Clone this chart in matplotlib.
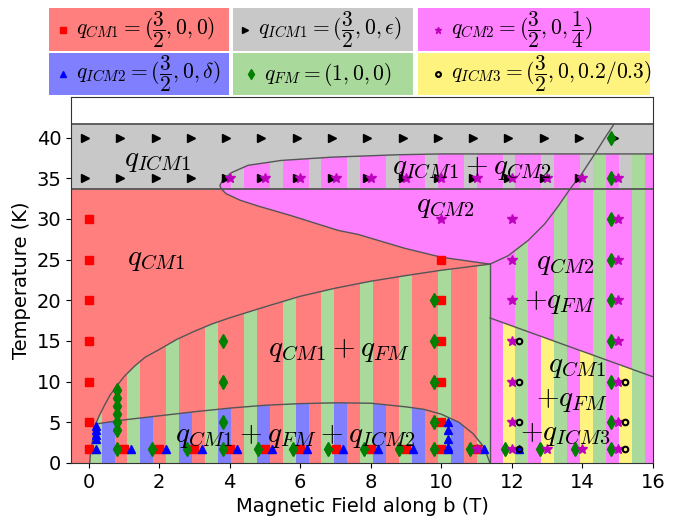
import numpy as np
import matplotlib
matplotlib.use("Agg")
import matplotlib.pyplot as plt
from matplotlib.patches import Polygon, Rectangle

plt.rcParams['mathtext.fontset'] = 'cm'

# phase colours
RED = '#ff7f7f'
GRAY = '#c8c8c8'
MAG = '#ff80ff'
BLUE = '#8080ff'
GREEN = '#a9d99b'
YEL = '#fff380'
LINE = '#555555'

# horizontal levels of the high temperature band
t_low = 33.7
t_mid = 38.0
t_top = 41.7

# CM1 / CM1+FM boundary
b4_x = [0.03, 0.06, 0.12, 0.2, 0.3, 0.45, 0.6, 0.8, 1.0, 1.3, 1.6, 2.0, 2.5, 3.0, 3.5, 4.0,
        5.0, 6.0, 7.0, 8.0, 9.0, 10.0, 11.38]
b4_y = [0.0, 1.5, 3.0, 4.8, 5.8, 7.1, 8.3, 9.5, 10.6, 11.9, 13.0, 13.95, 15.2, 16.2, 17.1, 17.85,
        19.2, 20.5, 21.5, 22.35, 23.05, 23.7, 24.45]

# ICM2 dome
b5_x = [0.2, 1.0, 2.0, 3.0, 4.0, 5.0, 6.0, 7.0, 8.0, 9.0, 9.5, 10.0, 10.5, 10.9, 11.2, 11.38]
b5_y = [4.8, 5.3, 5.8, 6.3, 6.75, 7.1, 7.3, 7.4, 7.35, 6.9, 6.6, 6.0, 5.0, 3.6, 2.0, 0.0]

# nose of the ICM1+CM2 pocket: upper and lower branches from the tip
up_x = [3.72, 3.8, 4.05, 4.52, 5.46, 6.88, 8.77, 10.0, 16.0]
up_y = [34.1, 34.8, 35.7, 36.6, 37.2, 37.6, 37.9, 38.0, 38.0]
lo_x = [3.72, 3.76, 3.9, 4.3, 4.8, 5.75, 7.07, 7.64, 8.96, 10.0, 11.38]
lo_y = [34.1, 33.7, 33.1, 32.3, 31.6, 30.4, 28.6, 28.1, 26.4, 25.3, 24.45]

# CM2 / CM2+FM boundary
st_x = [11.38, 11.9, 12.47, 12.93, 13.3, 13.65, 13.97, 14.35, 14.64, 14.9]
st_y = [24.45, 25.5, 27.4, 29.4, 31.5, 33.7, 35.5, 38.0, 40.0, 41.7]

# CM2+FM / CM1+FM+ICM3 boundary
b7_x = [11.38, 16.0]
b7_y = [17.83, 10.6]

# measured points
y_bot = 1.7
icm1_x = [-0.1, 0.9, 1.9, 2.9, 3.9, 4.9, 5.9, 6.9, 7.9, 8.9, 9.9, 10.9, 11.9, 12.9, 13.9, 14.9,
          -0.1, 0.9, 1.9, 2.9, 3.9, 4.9, 5.9, 6.9, 7.9, 8.9, 9.9, 10.9, 11.9, 12.9, 13.9, 14.9]
icm1_y = [40] * 16 + [35] * 16

cm1_x = [0, 0, 0, 0, 0, 0, 0, 1, 2, 3, 4, 5, 6, 7, 8, 9, 10, 11, 10, 10, 10, 10, 10]
cm1_y = [30, 25, 20, 15, 10, 5, y_bot, y_bot, y_bot, y_bot, y_bot, y_bot, y_bot, y_bot, y_bot,
         y_bot, y_bot, y_bot, 25, 20, 15, 10, 5]

icm2_x = [0.2, 0.2, 0.2, 0.2, 0.2, 1.2, 2.2, 3.2, 4.2, 5.2, 6.2, 7.2, 8.2, 9.2, 10.2, 11.2,
          10.2, 10.2, 10.2, 10.2, 12.2]
icm2_y = [4.5, 4.0, 3.5, 3.0, y_bot, y_bot, y_bot, y_bot, y_bot, y_bot, y_bot, y_bot, y_bot,
          y_bot, y_bot, y_bot, 5, 4, 3, 2, y_bot]

fm_x = [0.8, 0.8, 0.8, 0.8, 0.8, 0.8, 3.8, 3.8, 3.8, 9.8, 9.8, 9.8, 9.8,
        14.8, 14.8, 14.8, 14.8, 14.8, 14.8, 14.8, 14.8,
        0.8, 1.8, 2.8, 3.8, 4.8, 5.8, 6.8, 7.8, 8.8, 9.8, 10.8, 11.8, 12.8, 13.8, 14.8]
fm_y = [4, 5, 6, 7, 8, 9, 15, 10, 5, 20, 15, 10, 5,
        40, 35, 30, 25, 20, 15, 10, 5] + [y_bot] * 15

cm2_x = [4, 5, 6, 7, 8, 9, 10, 11, 12, 13, 14, 15,
         10, 12, 15, 12, 15, 12, 15, 12, 15, 12, 15, 12, 15,
         11, 12, 13, 14, 15]
cm2_y = [35] * 12 + [30, 30, 30, 25, 25, 20, 20, 15, 15, 10, 10, 5, 5] + [y_bot] * 5

icm3_x = [12.2, 12.2, 12.2, 12.2, 15.2, 15.2, 15.2]
icm3_y = [15, 10, 5, y_bot, 10, 5, y_bot]


def striped(ax, xs, ys, colors, period=1.1, nper=15):
    poly = Polygon(np.column_stack([xs, ys]), closed=True, facecolor=colors[1],
                   edgecolor='none', zorder=1)
    ax.add_patch(poly)
    w = period / 3
    for k in range(nper):
        for j, c in enumerate(colors):
            s = ax.axvspan(k * period + j * w, k * period + (j + 1) * w, color=c, lw=0,
                           antialiased=False, zorder=1)
            s.set_clip_path(poly)


fig = plt.figure(figsize=(6.89, 5.17), dpi=100)
ax = fig.add_axes([71 / 689, 54 / 517, 582 / 689, 366 / 517])

# backgrounds
ax.axhspan(0, t_low, color=RED, lw=0, zorder=0.5)
ax.axhspan(t_low, t_top, color=GRAY, lw=0, zorder=0.5)

# CM2 pocket (solid)
cm2_poly = list(zip(lo_x[1:], lo_y[1:])) + list(zip(st_x[1:6], st_y[1:6]))
ax.add_patch(Polygon(cm2_poly, closed=True, facecolor=MAG, edgecolor='none', zorder=1))

# ICM1 + CM2
px = up_x + [16.0, lo_x[1]]
py = up_y + [t_low, t_low]
striped(ax, px, py, [MAG, MAG, GRAY])
# ICM1 + CM2 + FM
px = st_x[5:8] + [16.0, 16.0]
py = st_y[5:8] + [t_mid, t_low]
striped(ax, px, py, [GREEN, MAG, GRAY])
# CM2 + FM
px = st_x[:6] + [16.0, 16.0, b7_x[0]]
py = st_y[:6] + [t_low, b7_y[1], b7_y[0]]
striped(ax, px, py, [GREEN, MAG, MAG])
# CM1 + FM + ICM3
striped(ax, b7_x + [16.0, b7_x[0]], b7_y + [0, 0], [GREEN, MAG, YEL])
# CM1 + FM
striped(ax, b4_x + [b4_x[-1]], b4_y + [0], [GREEN, RED, RED])
# CM1 + FM + ICM2
striped(ax, b4_x[:4] + b5_x[1:], b4_y[:4] + b5_y[1:], [GREEN, BLUE, RED])

# boundaries
kw = dict(color=LINE, lw=1.0, zorder=2)
ax.plot(b4_x, b4_y, **kw)
ax.plot(b5_x, b5_y, **kw)
ax.plot(up_x[::-1] + lo_x[1:], up_y[::-1] + lo_y[1:], **kw)
ax.plot(st_x, st_y, **kw)
ax.plot(b7_x, b7_y, **kw)
ax.plot([b4_x[-1], b4_x[-1]], [0, b4_y[-1]], **kw)
ax.axhline(t_low, color=LINE, lw=1.3, zorder=2)
ax.axhline(t_top, color=LINE, lw=1.3, zorder=2)

# measurements
ax.plot(icm1_x, icm1_y, 'k>', ms=6, ls='none', zorder=3)
ax.plot(cm1_x, cm1_y, 'rs', ms=5.5, ls='none', zorder=3)
ax.plot(icm2_x, icm2_y, 'b^', ms=6, ls='none', zorder=3)
ax.plot(fm_x, fm_y, 'gd', ms=7, ls='none', zorder=3)
ax.plot(cm2_x, cm2_y, 'm*', ms=7, ls='none', zorder=3)
ax.plot(icm3_x, icm3_y, 'o', mfc='none', mec='k', mew=1.5, ms=4, ls='none', zorder=3)

# phase labels
fs = 21
tk = dict(fontsize=fs, ha='center', va='center', zorder=4)
ax.text(1.95, 37.3, r'$q_{ICM1}$', **tk)
ax.text(10.86, 36.3, r'$q_{ICM1}+q_{CM2}$', **tk)
ax.text(10.1, 31.6, r'$q_{CM2}$', **tk)
ax.text(1.92, 25.1, r'$q_{CM1}$', **tk)
ax.text(7.1, 13.9, r'$q_{CM1}+q_{FM}$', **tk)
ax.text(5.85, 3.3, r'$q_{CM1}+q_{FM}+q_{ICM2}$', **tk)
ax.text(13.5, 24.6, r'$q_{CM2}$', **tk)
ax.text(13.36, 19.8, r'$+q_{FM}$', **tk)
ax.text(13.85, 11.9, r'$q_{CM1}$', **tk)
ax.text(13.7, 7.7, r'$+q_{FM}$', **tk)
ax.text(13.5, 3.6, r'$+q_{ICM3}$', **tk)

ax.set_xlim(-0.5, 16)
ax.set_ylim(0, 45)
ax.set_xticks(range(0, 17, 2))
ax.set_yticks(range(0, 41, 5))
ax.tick_params(labelsize=14)
ax.set_xlabel('Magnetic Field along b (T)', fontsize=14)
ax.set_ylabel('Temperature (K)', fontsize=14)
for sp in ax.spines.values():
    sp.set_color('#333333')
    sp.set_zorder(5)

# colour key above the plot
lax = fig.add_axes([0, 0, 1, 1])
lax.set_xlim(0, 689)
lax.set_ylim(517, 0)
lax.axis('off')
lax.patch.set_alpha(0)
rows = [(8, 51), (53, 95)]
cols = [(49, 229), (233, 413), (418, 650)]
key = [
    [(RED, 'rs', 14, r'$q_{CM1} = (\dfrac{3}{2},0,0)$'),
     (GRAY, 'k>', 12, r'$q_{ICM1} = (\dfrac{3}{2},0,\epsilon)$'),
     (MAG, 'm*', 20, r'$q_{CM2} = (\dfrac{3}{2},0,\dfrac{1}{4})$')],
    [(BLUE, 'b^', 14, r'$q_{ICM2} = (\dfrac{3}{2},0,\delta)$'),
     (GREEN, 'gd', 18, r'$q_{FM} = (1,0,0)$'),
     (YEL, 'ko', 20, r'$q_{ICM3} = (\dfrac{3}{2},0,0.2/0.3)$')],
]
for r, (y0, y1) in enumerate(rows):
    for c, (x0, x1) in enumerate(cols):
        color, mk, off, label = key[r][c]
        lax.add_patch(Rectangle((x0, y0), x1 - x0, y1 - y0, facecolor=color, edgecolor='none'))
        yc = (y0 + y1) / 2
        if mk == 'ko':
            lax.plot(x0 + off, yc, 'o', mfc='none', mec='k', mew=1.5, ms=3.5)
        else:
            lax.plot(x0 + off, yc, mk, ms=5)
        lax.text(x0 + off + 13, yc, label, fontsize=15.5, va='center', ha='left')

fig.savefig('out.png', dpi=100)
